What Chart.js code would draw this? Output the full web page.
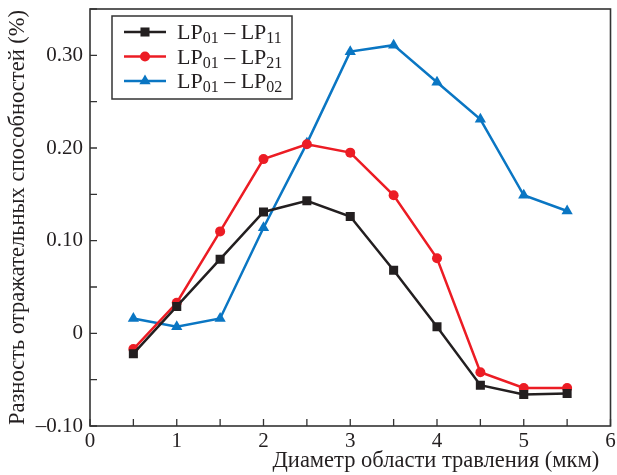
<!DOCTYPE html>
<html>
<head>
<meta charset="utf-8">
<script src="https://cdn.jsdelivr.net/npm/chart.js@4/dist/chart.umd.min.js"></script>
<style>
  body { margin: 0; background: #fff; }
  #wrap { width: 617px; height: 475px; }
</style>
</head>
<body>
<div id="wrap"><canvas id="chart"></canvas></div>
<script>
// etching diameter, um
const xValues = [0.5, 1, 1.5, 2, 2.5, 3, 3.5, 4, 4.5, 5, 5.5]

// reflectivity difference, %
const lp11 = [-0.022, 0.029, 0.080, 0.131, 0.143, 0.126, 0.068, 0.007, -0.056, -0.066, -0.065]
const lp21 = [-0.017, 0.033, 0.110, 0.188, 0.204, 0.195, 0.149, 0.081, -0.042, -0.059, -0.059]
const lp02 = [0.016, 0.007, 0.016, 0.114, 0.205, 0.304, 0.311, 0.271, 0.231, 0.149, 0.132]

const yTicks = [-0.10, 0, 0.10, 0.20, 0.30]
const yMinor = [-0.10, -0.05, 0, 0.05, 0.10, 0.15, 0.20, 0.25, 0.30, 0.35]
const xMinor = [0, 0.5, 1, 1.5, 2, 2.5, 3, 3.5, 4, 4.5, 5, 5.5, 6]

const seriesNames = [['01', '11'], ['01', '21'], ['01', '02']]

const ink = '#231f20'
const colors = ['#231f20', '#ec1c24', '#0a76c3']
const serif = 'Liberation Serif'

function toPoints(ys) {
    return xValues.map((x, i) => ({ x: x, y: ys[i] }))
}

function makeSet(ys, i, style, r) {
    return {
        label: 'LP' + seriesNames[i][0] + ' – LP' + seriesNames[i][1],
        data: toPoints(ys),
        borderColor: colors[i],
        backgroundColor: colors[i],
        borderWidth: 2.5,
        pointStyle: style,
        pointRadius: r,
        pointHoverRadius: r,
        pointBorderWidth: 0,
        tension: 0
    }
}

// frame, inward ticks and legend box
const framePlugin = {
    id: 'frame',
    afterDraw(chart) {
        const ctx = chart.ctx
        const a = chart.chartArea
        const xs = chart.scales.x
        const ys = chart.scales.y
        ctx.save()
        ctx.strokeStyle = '#333'
        ctx.lineWidth = 1.6
        ctx.strokeRect(a.left, a.top, a.right - a.left, a.bottom - a.top)

        ctx.lineWidth = 1.3
        ctx.beginPath()
        xMinor.forEach(v => {
            const px = xs.getPixelForValue(v)
            ctx.moveTo(px, a.bottom)
            ctx.lineTo(px, a.bottom - 7)
        })
        yMinor.forEach(v => {
            const py = ys.getPixelForValue(v)
            ctx.moveTo(a.left, py)
            ctx.lineTo(a.left + 7, py)
        })
        ctx.stroke()

        // legend
        const bx = a.left + 22, by = a.top + 7, bw = 180, bh = 83
        ctx.lineWidth = 1.5
        ctx.strokeStyle = '#333'
        ctx.strokeRect(bx, by, bw, bh)
        chart.data.datasets.forEach((ds, i) => {
            const y = by + 16 + i * 24.5
            ctx.strokeStyle = ds.borderColor
            ctx.lineWidth = 2.5
            ctx.beginPath()
            ctx.moveTo(bx + 12, y)
            ctx.lineTo(bx + 54, y)
            ctx.stroke()
            ctx.fillStyle = ds.backgroundColor
            Chart.helpers.drawPoint(ctx, {
                pointStyle: ds.pointStyle, radius: ds.pointRadius, rotation: 0, borderWidth: 0
            }, bx + 33, y)

            ctx.fillStyle = ink
            ctx.textBaseline = 'alphabetic'
            let tx = bx + 65
            const base = y + 7
            const parts = [
                ['LP', 0], [seriesNames[i][0], 1], [' – LP', 0], [seriesNames[i][1], 1]
            ]
            parts.forEach(([t, sub]) => {
                ctx.font = sub ? '16px "' + serif + '"' : '22px "' + serif + '"'
                ctx.fillText(t, tx, sub ? base + 4 : base)
                tx += ctx.measureText(t).width
            })
        })
        ctx.restore()
    }
}

const chart = new Chart(document.getElementById('chart').getContext('2d'), {
    type: 'line',
    data: {
        datasets: [
            makeSet(lp11, 0, 'rect', 6.4),
            makeSet(lp21, 1, 'circle', 5),
            makeSet(lp02, 2, 'triangle', 6.5)
        ]
    },
    options: {
        responsive: true,
        maintainAspectRatio: false,
        animation: false,
        layout: { padding: { top: 9, right: 6, left: 0, bottom: 0 } },
        plugins: {
            legend: { display: false },
            tooltip: { enabled: false }
        },
        scales: {
            x: {
                type: 'linear',
                min: 0,
                max: 6,
                grid: { display: false, drawTicks: false },
                border: { display: false },
                afterFit: s => { s.height = 49; s.paddingLeft = 0; s.paddingRight = 0 },
                ticks: {
                    stepSize: 1,
                    padding: 3,
                    color: ink,
                    font: { family: serif, size: 21 }
                },
                title: {
                    display: true,
                    align: 'end',
                    text: 'Диаметр области травления (мкм)  ',
                    color: ink,
                    padding: { top: 0, bottom: 0 },
                    font: { family: serif, size: 22.5 }
                }
            },
            y: {
                min: -0.10,
                max: 0.35,
                grid: { display: false, drawTicks: false },
                border: { display: false },
                afterFit: s => { s.width = 90; s.paddingTop = 0; s.paddingBottom = 0 },
                afterBuildTicks: s => { s.ticks = yTicks.map(v => ({ value: v })) },
                ticks: {
                    padding: 7,
                    color: ink,
                    font: { family: serif, size: 21 },
                    callback: v => {
                        if (Math.abs(v) < 1e-9) return '0'
                        return v < 0 ? '–' + Math.abs(v).toFixed(2) : v.toFixed(2)
                    }
                },
                title: {
                    display: true,
                    text: 'Разность отражательных способностей (%)',
                    color: ink,
                    padding: { top: 5, bottom: 0 },
                    font: { family: serif, size: 22.5 }
                }
            }
        }
    },
    plugins: [framePlugin]
})
</script>
</body>
</html>
